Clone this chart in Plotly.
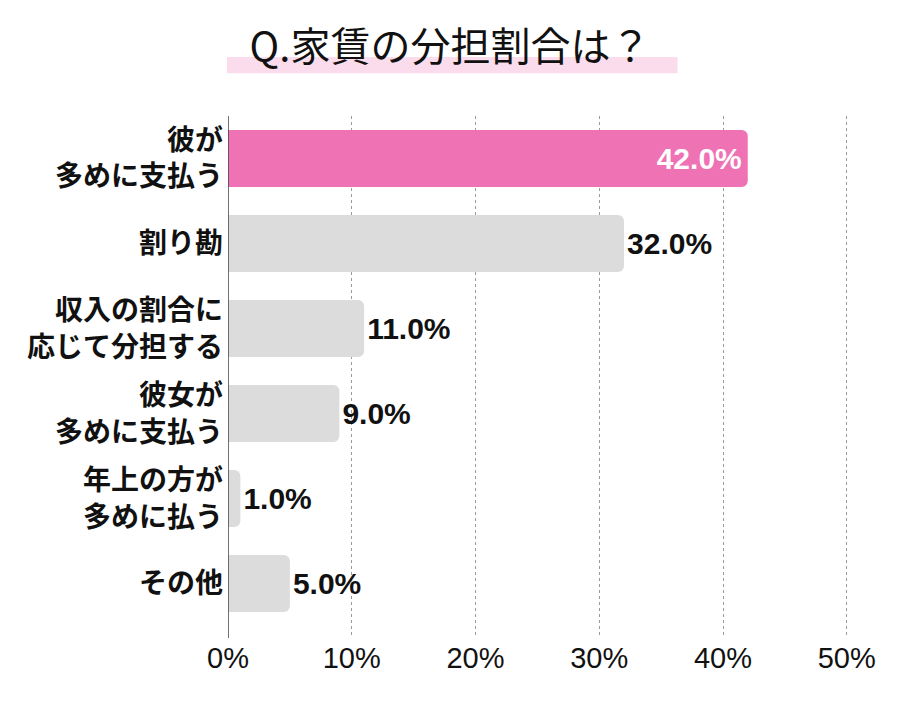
import plotly.graph_objects as go

categories = ["彼が<br>多めに支払う", "割り勘", "収入の割合に<br>応じて分担する",
              "彼女が<br>多めに支払う", "年上の方が<br>多めに払う", "その他"]
values = [42.0, 32.0, 11.0, 9.0, 1.0, 5.0]
bar_colors = ["#ef72b5", "#dcdcdc", "#dcdcdc", "#dcdcdc", "#dcdcdc", "#dcdcdc"]
text_positions = ["inside", "outside", "outside", "outside", "outside", "outside"]
text_colors = ["#ffffff", "#111111", "#111111", "#111111", "#111111", "#111111"]
x_ticks = [0, 10, 20, 30, 40, 50]
x_tick_labels = ["0%", "10%", "20%", "30%", "40%", "50%"]
title_text = "Q.家賃の分担割合は？"

# the page body has an 8px default margin; offsets below compensate
fig = go.Figure()
fig.add_trace(go.Bar(
    x=values, y=categories, orientation="h",
    marker=dict(color=bar_colors, line=dict(width=0)),
    texttemplate="%{x:.1f}%",
    textposition=text_positions,
    insidetextanchor="end",
    textfont=dict(family="Liberation Sans, Arial", size=30, color=text_colors, weight=700),
    cliponaxis=False,
    hoverinfo="skip",
))

fig.update_layout(
    width=900, height=712,
    margin=dict(l=220, r=60, t=108, b=82, autoexpand=False),
    paper_bgcolor="white", plot_bgcolor="white",
    barcornerradius=6,
    bargap=0.33,
    showlegend=False,
    title=dict(text=title_text, x=442 / 900, xanchor="center", xref="container",
               y=1 - 39 / 712, yanchor="middle", yref="container",
               font=dict(family="Noto Sans CJK JP", size=40, color="#111111")),
    xaxis=dict(range=[0, 50.1], tickvals=x_ticks, ticktext=x_tick_labels,
               showgrid=True, gridcolor="#9a9a9a", griddash="dot", gridwidth=1,
               zeroline=False, showline=False, ticks="",
               tickfont=dict(family="Liberation Sans, Arial", size=29, color="#111111"),
               fixedrange=True),
    yaxis=dict(range=[5.64, -0.5], showgrid=False, zeroline=False,
               showline=False, ticks="", ticklabelstandoff=4,
               tickfont=dict(family="Noto Sans CJK JP", size=28, color="#111111", weight=700)),
    shapes=[
        dict(type="rect", xref="paper", yref="paper", x0=-0.0016, x1=0.725, y0=1.082, y1=1.113,
             fillcolor="#fbdcec", line=dict(width=0), layer="below"),
        dict(type="line", xref="x", yref="paper", x0=0, x1=0, y0=0, y1=1,
             line=dict(color="#444444", width=1.5), layer="above"),
    ],
)

fig.write_html("out.html")
